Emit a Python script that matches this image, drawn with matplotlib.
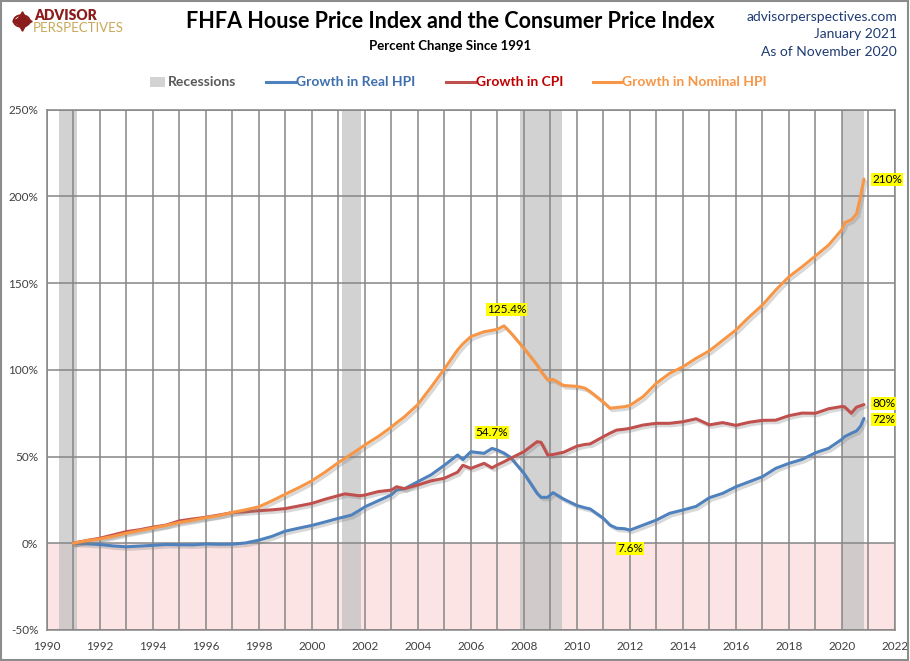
import matplotlib
matplotlib.use("Agg")
import matplotlib.pyplot as plt
import matplotlib.patheffects as pe
from matplotlib.lines import Line2D
from matplotlib.patches import Rectangle, Circle
import numpy as np

plt.rcParams['font.family'] = ['Lato', 'DejaVu Sans']

# ---------------- data (percent change since Jan 1991) ----------------
dates = [1991.0, 1991.5, 1992.0, 1992.5, 1993.0, 1993.5, 1994.0, 1994.5, 1995.0, 1995.5,
         1996.0, 1996.5, 1997.0, 1997.5, 1998.0, 1998.5, 1999.0, 1999.5, 2000.0, 2000.5,
         2001.0, 2001.25, 2001.5, 2001.8, 2002.0, 2002.5, 2003.0, 2003.2, 2003.5, 2004.0,
         2004.5, 2005.0, 2005.5, 2005.7, 2006.0, 2006.5, 2006.8, 2007.0, 2007.25, 2007.5,
         2008.0, 2008.5, 2008.65, 2008.9, 2009.1, 2009.5, 2010.0, 2010.3, 2010.5, 2011.0,
         2011.25, 2011.5, 2011.8, 2012.0, 2012.5, 2013.0, 2013.5, 2014.0, 2014.5, 2015.0,
         2015.5, 2016.0, 2016.5, 2017.0, 2017.5, 2018.0, 2018.5, 2019.0, 2019.5, 2020.0,
         2020.1, 2020.35, 2020.55, 2020.7, 2020.83]

nominal_hpi = [0, 1.5, 2.5, 4, 5.8, 7.3, 8.8, 10.3, 12, 13.3,
               14.8, 16, 17.8, 19.3, 21, 24.5, 28.3, 32, 36, 41,
               46.5, 49, 51.5, 54.5, 56.7, 61.5, 67, 69.5, 73, 80,
               90, 100.5, 111.5, 115, 119.2, 122, 122.8, 123.4, 125.4, 121.5,
               112.5, 102.8, 99, 94.2, 94.5, 91, 90.5, 89.5, 87.5, 81.5,
               77.9, 78.3, 78.8, 79.5, 84.6, 92.3, 98, 101.8, 106.7, 111,
               117, 123, 130.5, 137.4, 146, 153.7, 159.5, 165.7, 172, 181,
               184.9, 186.5, 190, 200, 210]

cpi = [0, 1.6, 2.9, 4.8, 6.7, 7.8, 9.3, 10.5, 12.9, 14,
       15, 16.3, 17.7, 18.2, 18.8, 19.3, 20, 21.5, 23, 25.4,
       27.5, 28.5, 28, 27.4, 27.8, 29.8, 30.7, 32.6, 31.5, 33.6,
       36, 37.5, 41, 45, 43.2, 46.1, 43.5, 45.2, 47, 49,
       52.8, 58.6, 58.2, 50.9, 51.2, 52.5, 56, 57, 57.3, 61.5,
       63.5, 65.3, 65.8, 66.3, 68.2, 69.2, 69.2, 70.1, 71.8, 68.3,
       69.6, 68, 69.8, 70.9, 71, 73.6, 75.1, 75, 77.6, 78.9,
       78.7, 75, 78.5, 79.3, 80]

real_hpi = [0, -0.3, -0.7, -1.5, -2, -1.6, -1.2, -0.7, -0.8, -0.9,
            -0.4, -0.6, -0.5, 0.2, 1.8, 4, 7, 8.7, 10.3, 12.3,
            14.4, 15.3, 16.3, 19, 21, 24.5, 27.9, 30.7, 31.5, 35.5,
            39.5, 45, 50.9, 48.3, 52.8, 51.9, 54.7, 53.8, 52, 49.5,
            40.4, 28.8, 26.5, 26.5, 29.2, 25.5, 21.8, 20.5, 19.8, 14.4,
            10.5, 8.7, 8.4, 7.6, 10.5, 13.4, 17.3, 19.2, 21.3, 26.3,
            28.8, 32.6, 35.5, 38.4, 43.2, 46.1, 48.4, 52.2, 54.8, 60,
            61.5, 63.4, 64.8, 67.5, 72]

rec_start = [1990.47, 2001.13, 2007.86, 2020.0]
rec_end = [1991.15, 2001.87, 2009.43, 2020.83]

year_ticks = list(range(1990, 2023, 2))
pct_ticks = [-50, 0, 50, 100, 150, 200, 250]

assert len(dates) == len(nominal_hpi) == len(cpi) == len(real_hpi)

# ---------------- styling ----------------
C_BLUE = '#4F81BD'
C_RED = '#C0504D'
C_ORANGE = '#F79646'
C_GRID = '#868686'
C_TXT = '#404040'

W, H = 910, 661
fig = plt.figure(figsize=(W / 100, H / 100), dpi=100)

def fx(px):
    return px / W

def fy(py):
    return 1 - py / H

ax = fig.add_axes([fx(46.7), fy(630), fx(895) - fx(46.7), fy(109.8) - fy(630)])
ax.set_xlim(1990, 2022)
ax.set_ylim(-50, 250)
ax.set_axisbelow('line')

# negative zone
ax.axhspan(-50, 0, color='#FDE4E4', zorder=0.3, lw=0)
# recessions
for s, e in zip(rec_start, rec_end):
    ax.axvspan(s, e, color='#BFBFBF', alpha=0.7, lw=0, zorder=1)

ax.set_xticks(year_ticks)
ax.set_xticks(range(1990, 2023), minor=True)
ax.set_yticks(pct_ticks)
ax.set_yticklabels([f'{v}%' for v in pct_ticks])
ax.grid(True, which='both', axis='x', color=C_GRID, lw=1.1)
ax.grid(True, which='major', axis='y', color=C_GRID, lw=1.1)
ax.tick_params(which='both', length=0, labelsize=8.5, labelcolor=C_TXT)
ax.tick_params(axis='x', pad=8)
ax.tick_params(axis='y', pad=6)
for sp in ax.spines.values():
    sp.set_color(C_GRID)
    sp.set_linewidth(1.1)

shadow = [pe.SimpleLineShadow(offset=(1.6, -1.8), shadow_color='#808080', alpha=0.3),
          pe.Normal()]
ax.plot(dates, real_hpi, color=C_BLUE, lw=2.2, zorder=3, path_effects=shadow,
        solid_capstyle='round', solid_joinstyle='round')
ax.plot(dates, cpi, color=C_RED, lw=2.2, zorder=3, path_effects=shadow,
        solid_capstyle='round', solid_joinstyle='round')
ax.plot(dates, nominal_hpi, color=C_ORANGE, lw=2.2, zorder=4, path_effects=shadow,
        solid_capstyle='round', solid_joinstyle='round')

# annotations
box = dict(boxstyle='square,pad=0.08', fc='#FFFF00', ec='none')
ann_kw = dict(fontsize=8.5, color='black', bbox=box, zorder=6, textcoords='offset points')

i_peak = int(np.argmax(nominal_hpi[:45]))
ax.annotate(f'{nominal_hpi[i_peak]:.1f}%', (dates[i_peak], nominal_hpi[i_peak]),
            xytext=(2, 11.5), ha='center', va='center', **ann_kw)
i_rpk = int(np.argmax(real_hpi[:45]))
ax.annotate(f'{real_hpi[i_rpk]:.1f}%', (dates[i_rpk], real_hpi[i_rpk]),
            xytext=(0, 11.5), ha='center', va='center', **ann_kw)
i_rmin = 30 + int(np.argmin(real_hpi[30:]))
ax.annotate(f'{real_hpi[i_rmin]:.1f}%', (dates[i_rmin], real_hpi[i_rmin]),
            xytext=(0, -13.5), ha='center', va='center', **ann_kw)
ax.annotate(f'{nominal_hpi[-1]:.0f}%', (dates[-1], nominal_hpi[-1]),
            xytext=(6, 0), ha='left', va='center', **ann_kw)
ax.annotate(f'{cpi[-1]:.0f}%', (dates[-1], cpi[-1]),
            xytext=(6, 1), ha='left', va='center', **ann_kw)
ax.annotate(f'{real_hpi[-1]:.0f}%', (dates[-1], real_hpi[-1]),
            xytext=(6, -1), ha='left', va='center', **ann_kw)

# titles
fig.text(fx(450), fy(21), 'FHFA House Price Index and the Consumer Price Index',
         ha='center', va='center', fontsize=15.5, fontweight='bold', color='black')
fig.text(fx(450), fy(46), 'Percent Change Since 1991', ha='center', va='center',
         fontsize=9.5, fontweight='bold', color='black')

C_NAVY = '#1F3B73'
for txt, py in [('advisorperspectives.com', 17), ('January 2021', 34), ('As of November 2020', 52)]:
    fig.text(fx(897), fy(py), txt, ha='right', va='center', fontsize=10, color=C_NAVY)

# logo
fig.text(fx(34), fy(15), 'ADVISOR', ha='left', va='center', fontsize=10,
         fontweight='heavy', color='#8B1C1C')
fig.text(fx(33), fy(27.5), 'PERSPECTIVES', ha='left', va='center', fontsize=9.5,
         color='#C9A857')
fig.add_artist(Circle((fx(21.7), fy(21)), 8.0 / W, transform=fig.transFigure,
                      fill=False, ec='#8B1C1C', lw=1.4))
fig.add_artist(Line2D([fx(21.7)], [fy(21)], marker=(4, 1, 0), ms=14, color='#8B1C1C',
                      transform=fig.transFigure))
fig.add_artist(Line2D([fx(21.7)], [fy(21)], marker=(4, 1, 45), ms=8, color='#8B1C1C',
                      transform=fig.transFigure))

# legend (manual)
LY = 82
fig.add_artist(Rectangle((fx(150), fy(87)), fx(165) - fx(150), fy(77) - fy(87),
                         transform=fig.transFigure, color='#D3D3D3', lw=0))
fig.text(fx(168), fy(LY), 'Recessions', ha='left', va='center', fontsize=10,
         fontweight='bold', color='#595959')
for x0, x1, col, tcol, lab in [(266, 295, C_BLUE, '#3F6FAF', 'Growth in Real HPI'),
                               (446, 474.5, C_RED, '#C00000', 'Growth in CPI'),
                               (593, 621, C_ORANGE, C_ORANGE, 'Growth in Nominal HPI')]:
    fig.add_artist(Line2D([fx(x0), fx(x1)], [fy(LY), fy(LY)], color=col, lw=2.2,
                          transform=fig.transFigure))
    fig.text(fx(x1 + 1), fy(LY), lab, ha='left', va='center', fontsize=10,
             fontweight='bold', color=tcol)

# outer frame
fig.add_artist(Rectangle((0.001, 0.001), 0.997, 0.997, transform=fig.transFigure,
                         fill=False, ec='#8C8C8C', lw=1.5))

fig.savefig('out.png', dpi=100)
